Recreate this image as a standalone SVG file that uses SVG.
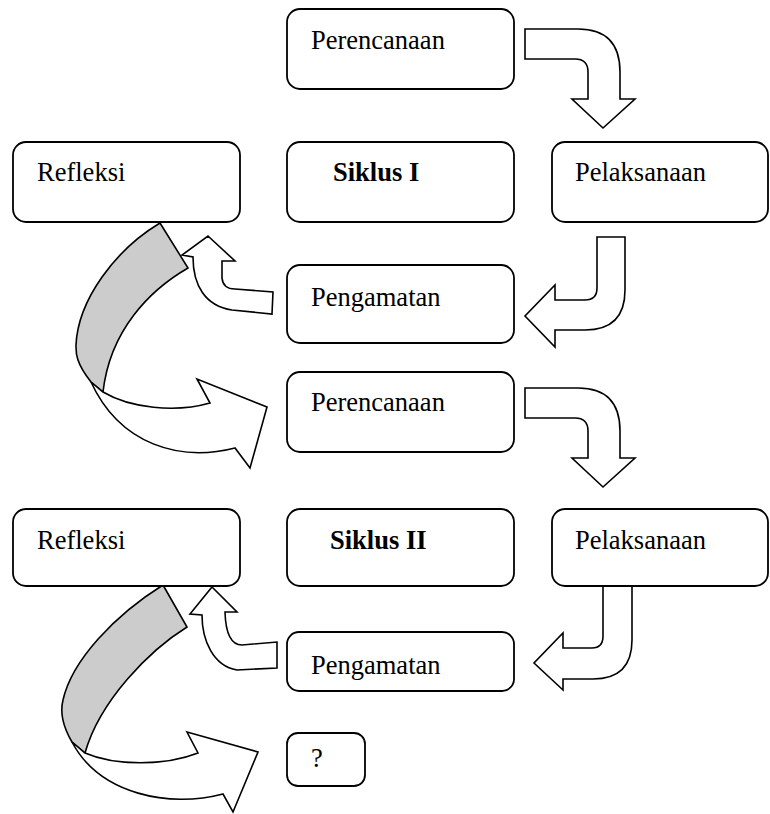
<svg xmlns="http://www.w3.org/2000/svg" width="770" height="814" viewBox="0 0 770 814">
<style>
.box{fill:#fff;stroke:#000;stroke-width:1.8}
.arr{fill:#fff;stroke:#000;stroke-width:1.6;stroke-linejoin:miter}
.band{fill:#cccccc;stroke:#000;stroke-width:1.6}
.t{font-family:"Liberation Serif","Times New Roman",serif;font-size:26.5px;fill:#000}
.b{font-weight:bold}
</style>
<rect width="770" height="814" fill="#fff"/>
<g id="connectors">
<path class="arr" d="M525,29 L578,29 Q620,29 620,72 L620,99 L635,99 L603,128 L572,99 L588,99 L588,72 Q588,59 575,59 L525,59 Z"/>
<path class="arr" d="M525,388 L578,388 Q620,388 620,431 L620,458 L635,458 L603,487 L572,458 L588,458 L588,431 Q588,418 575,418 L525,418 Z"/>
<path class="arr" d="M597,237 L625,237 L625,290 Q625,330 585,330 L555,330 L555,347 L525,316 L555,285 L555,300 L585,300 Q597,300 597,288 Z"/>
<path class="arr" d="M603,586 L632,586 L632,640 Q632,679 593,679 L563,679 L563,690 L534,663 L563,633 L563,648 L592,648 Q603,648 603,636 Z"/>
<path class="arr" d="M208,236 L235,261 L222,261 L222,278 Q223,289 235,289 L273,292 L272,314 L232,310 C205,306 193,285 193,257 L182,255 Z"/>
<path class="arr" d="M212,587 L237,612 L225,612 Q226,645 242,645 L277,642 L277,668 L237,670 C213,666 202,640 202,615 L190,614 Z"/>
<path class="band" d="M160,223 L188,268 C150,290 110,330 103,392 L91,382 C75,362 76,352 76,345 C78,300 115,250 160,223 Z"/>
<path class="arr" d="M103,392 C130,408 175,413 210,403 L197,379 L267,407 L250,468 L235,448 C180,462 120,445 91,382 Z"/>
<path class="band" d="M163,585 L187,627 C150,650 100,700 85,753 L72,742 C62,725 60,712 63,700 C72,660 115,615 163,585 Z"/>
<path class="arr" d="M85,753 C115,766 165,766 198,753 L187,732 L258,752 L233,812 L223,794 C170,808 100,795 72,742 Z"/>
</g>
<g id="perencanaan1"><rect class="box" x="287" y="9" width="227" height="80" rx="13"/><text class="t" x="311" y="49">Perencanaan</text></g>
<g id="refleksi1"><rect class="box" x="13" y="142" width="227" height="80" rx="13"/><text class="t" x="37" y="181">Refleksi</text></g>
<g id="siklus1"><rect class="box" x="287" y="142" width="227" height="80" rx="13"/><text class="t b" x="333" y="181">Siklus I</text></g>
<g id="pelaksanaan1"><rect class="box" x="552" y="142" width="216" height="80" rx="13"/><text class="t" x="575" y="181">Pelaksanaan</text></g>
<g id="pengamatan1"><rect class="box" x="287" y="265" width="227" height="78" rx="13"/><text class="t" x="311" y="306">Pengamatan</text></g>
<g id="perencanaan2"><rect class="box" x="287" y="372" width="227" height="80" rx="13"/><text class="t" x="311" y="411">Perencanaan</text></g>
<g id="refleksi2"><rect class="box" x="13" y="509" width="227" height="77" rx="13"/><text class="t" x="37" y="549">Refleksi</text></g>
<g id="siklus2"><rect class="box" x="287" y="509" width="227" height="77" rx="13"/><text class="t b" x="330" y="549">Siklus II</text></g>
<g id="pelaksanaan2"><rect class="box" x="552" y="509" width="216" height="77" rx="13"/><text class="t" x="575" y="549">Pelaksanaan</text></g>
<g id="pengamatan2"><rect class="box" x="287" y="632" width="227" height="59" rx="12"/><text class="t" x="311" y="674">Pengamatan</text></g>
<g id="question"><rect class="box" x="287" y="733" width="78" height="53" rx="11"/><text class="t" x="311" y="767">?</text></g>
</svg>
